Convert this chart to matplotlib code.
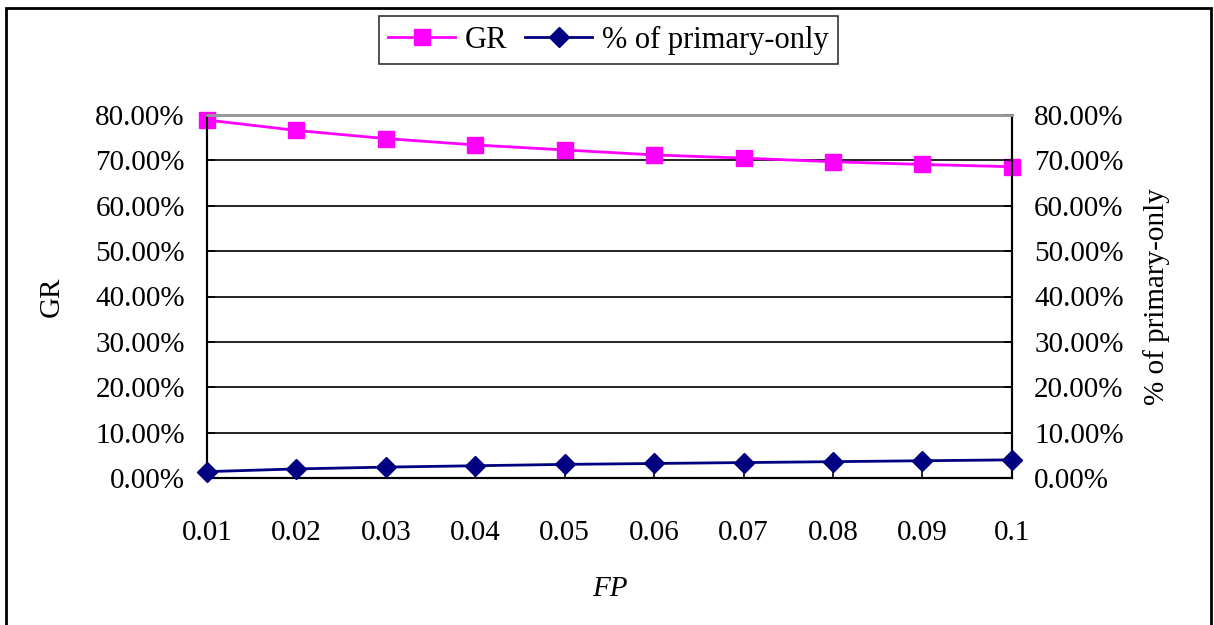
import matplotlib.pyplot as plt
from matplotlib.patches import Rectangle
from matplotlib.ticker import FuncFormatter

plt.rcParams['font.family'] = ['Liberation Serif', 'DejaVu Serif']

fp = ['0.01', '0.02', '0.03', '0.04', '0.05', '0.06', '0.07', '0.08', '0.09', '0.1']
gr = [78.9, 76.6, 74.8, 73.4, 72.3, 71.2, 70.5, 69.7, 69.1, 68.6]
primary_only = [1.4, 2.0, 2.4, 2.7, 3.0, 3.2, 3.4, 3.6, 3.8, 4.0]

fig = plt.figure(figsize=(12.14, 6.25), dpi=100)
ax = fig.add_axes([0.1705, 0.2352, 0.663, 0.5808])
ax2 = ax.twinx()

x = list(range(len(fp)))
l1, = ax.plot(x, gr, color='#ff00ff', lw=2, marker='s', ms=11, clip_on=False, zorder=5,
              label='GR')
l2, = ax2.plot(x, primary_only, color='#000080', lw=2, marker='D', ms=10, clip_on=False,
               zorder=5, label='% of primary-only')

fs = 21
pct = FuncFormatter(lambda v, p: '%.2f%%' % v)
for a in (ax, ax2):
    a.set_ylim(0, 80)
    a.set_yticks(range(0, 81, 10))
    a.yaxis.set_major_formatter(pct)
    a.tick_params(axis='y', direction='in', length=6, width=1.2, labelsize=fs, pad=16)
ax.set_xlim(0, len(fp) - 1)
ax.set_xticks(x)
ax.set_xticklabels(fp)
ax.tick_params(axis='x', direction='in', length=7, width=1.2, labelsize=fs, pad=30)

for v in range(10, 80, 10):
    ax.axhline(v, color='black', lw=1.2, zorder=1)

for a in (ax, ax2):
    a.spines['top'].set_color('#999999')
    a.spines['top'].set_linewidth(2)
    for s in ('left', 'right', 'bottom'):
        a.spines[s].set_linewidth(1.5)

ax.set_ylabel('GR', fontsize=fs, labelpad=22)
ax2.set_ylabel('% of primary-only', fontsize=fs, labelpad=14)
ax.set_xlabel('FP', fontsize=fs, style='italic', labelpad=22)

leg = fig.legend([l1, l2], ['GR', '% of primary-only'], loc='center',
                 bbox_to_anchor=(0.501, 0.936), ncol=2, fontsize=22, frameon=True,
                 fancybox=False, edgecolor='black', handlelength=2.2, handletextpad=0.3,
                 columnspacing=0.6, borderpad=0.3)
leg.get_frame().set_linewidth(1.2)

fig.patches.append(Rectangle((6 / 1214, -0.05), 1205 / 1214, 1.05 - 8 / 625,
                             transform=fig.transFigure, fill=False, edgecolor='black',
                             lw=2, zorder=10))

fig.savefig('out.png', dpi=100)
